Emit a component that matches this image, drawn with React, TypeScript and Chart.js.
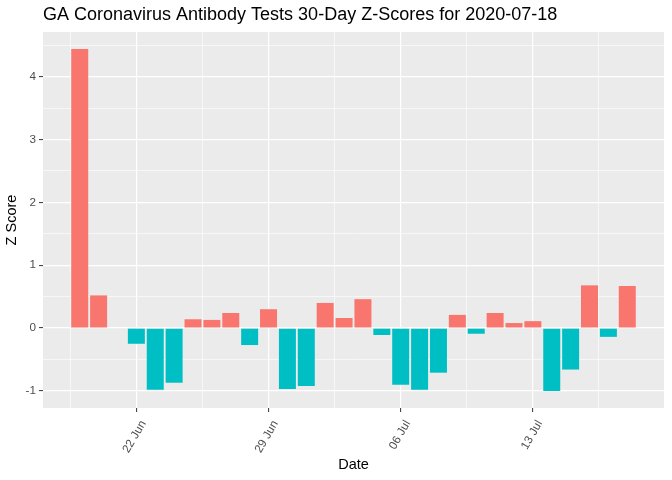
import React, { useEffect, useRef } from "react";
import { Chart, registerables } from "chart.js";

Chart.register(...registerables);

const dates: string[] = [
  "2020-06-19", "2020-06-20", "2020-06-21", "2020-06-22", "2020-06-23",
  "2020-06-24", "2020-06-25", "2020-06-26", "2020-06-27", "2020-06-28",
  "2020-06-29", "2020-06-30", "2020-07-01", "2020-07-02", "2020-07-03",
  "2020-07-04", "2020-07-05", "2020-07-06", "2020-07-07", "2020-07-08",
  "2020-07-09", "2020-07-10", "2020-07-11", "2020-07-12", "2020-07-13",
  "2020-07-14", "2020-07-15", "2020-07-16", "2020-07-17", "2020-07-18",
];

const zScores: (number | null)[] = [
  4.44, 0.52, null, -0.25, -0.98,
  -0.87, 0.14, 0.13, 0.24, -0.27,
  0.3, -0.97, -0.92, 0.4, 0.16,
  0.46, -0.11, -0.9, -0.98, -0.71,
  0.21, -0.09, 0.24, 0.08, 0.11,
  -1.0, -0.66, 0.68, -0.14, 0.67,
];

const xTickDates: string[] = ["2020-06-22", "2020-06-29", "2020-07-06", "2020-07-13"];
const xTickLabels: string[] = ["22 Jun", "29 Jun", "06 Jul", "13 Jul"];
const yTicks: number[] = [-1, 0, 1, 2, 3, 4];

const POS = "#F8766D";
const NEG = "#00BFC4";
const FONT = "'Liberation Sans', Arial, sans-serif";

const DAY = 86400000;
const t0 = Date.parse(dates[0] + "T00:00:00Z");
const dayIndex = (d: string) => Math.round((Date.parse(d + "T00:00:00Z") - t0) / DAY);

const panelBg = {
  id: "panelBg",
  beforeDraw(chart: any) {
    const { ctx, chartArea } = chart;
    ctx.save();
    ctx.fillStyle = "#EBEBEB";
    ctx.fillRect(chartArea.left, chartArea.top, chartArea.right - chartArea.left, chartArea.bottom - chartArea.top);
    ctx.restore();
  },
};

export default function App() {
  const ref = useRef<HTMLCanvasElement | null>(null);

  useEffect(() => {
    document.body.style.margin = "0";
    if (!ref.current) return;

    const points = dates.map((d, i) => ({ x: dayIndex(d), y: zScores[i] }));
    const nDays = dayIndex(dates[dates.length - 1]);
    const halfBar = 0.45;
    const expand = (nDays + 2 * halfBar) * 0.05;
    const xMin = -halfBar - expand;
    const xMax = nDays + halfBar + expand;

    const vals = zScores.filter((v) => v !== null) as number[];
    const yLo = Math.min(0, ...vals);
    const yHi = Math.max(0, ...vals);
    const yExp = (yHi - yLo) * 0.05;

    const majorX = xTickDates.map(dayIndex);
    const minorX: number[] = [];
    for (let v = majorX[0] - 3.5; v <= xMax; v += 7) if (v >= xMin) minorX.push(v);
    const xTickVals = [...majorX, ...minorX].sort((a, b) => a - b);

    const yTickVals: number[] = [];
    for (let v = yTicks[0] - 0.5; v <= yHi + yExp; v += 0.5) if (v >= yLo - yExp) yTickVals.push(v);

    const isMajorX = (v: number) => majorX.includes(v);
    const isMajorY = (v: number) => yTicks.includes(v);

    const chart = new Chart(ref.current, {
      type: "bar",
      data: {
        datasets: [
          {
            data: points as any,
            backgroundColor: zScores.map((v) => ((v ?? 0) >= 0 ? POS : NEG)),
            barPercentage: 0.9,
            categoryPercentage: 1.0,
            borderWidth: 0,
          },
        ],
      },
      plugins: [panelBg],
      options: {
        animation: false,
        responsive: true,
        maintainAspectRatio: false,
        layout: { padding: { left: 0, right: 8, top: 0, bottom: 0 } },
        plugins: {
          legend: { display: false },
          tooltip: { enabled: false },
          title: {
            display: true,
            text: "GA Coronavirus Antibody Tests 30-Day Z-Scores for 2020-07-18",
            align: "start",
            fullSize: false,
            color: "#000000",
            font: { family: FONT, size: 18, weight: "normal" },
            padding: { top: 4.5, bottom: 5.9 },
          },
        },
        scales: {
          x: {
            type: "linear",
            min: xMin,
            max: xMax,
            offset: false,
            afterFit: (s: any) => {
              s.height = 72;
            },
            afterBuildTicks: (s: any) => {
              s.ticks = xTickVals.map((v) => ({ value: v }));
            },
            border: { display: false },
            grid: {
              offset: false,
              color: "#FFFFFF",
              lineWidth: (c: any) => (isMajorX(c.tick?.value) ? 1.2 : 0.6),
              tickColor: (c: any) => (isMajorX(c.tick?.value) ? "#333333" : "rgba(0,0,0,0)"),
              tickLength: 4,
              tickWidth: 1,
            },
            ticks: {
              autoSkip: false,
              minRotation: 60,
              maxRotation: 60,
              padding: 6,
              labelOffset: 7,
              color: "#4D4D4D",
              font: { family: FONT, size: 11.7 },
              callback: (v: any) => {
                const i = majorX.indexOf(Number(v));
                return i >= 0 ? xTickLabels[i] : "";
              },
            },
            title: {
              display: true,
              text: "Date",
              color: "#000000",
              font: { family: FONT, size: 14.5 },
              padding: { top: 0, bottom: 6.3 },
            },
          },
          y: {
            type: "linear",
            min: yLo - yExp,
            max: yHi + yExp,
            afterFit: (s: any) => {
              s.width = 43;
            },
            afterBuildTicks: (s: any) => {
              s.ticks = yTickVals.map((v) => ({ value: v }));
            },
            border: { display: false },
            grid: {
              color: "#FFFFFF",
              lineWidth: (c: any) => (isMajorY(c.tick?.value) ? 1.2 : 0.6),
              tickColor: (c: any) => (isMajorY(c.tick?.value) ? "#333333" : "rgba(0,0,0,0)"),
              tickLength: 4,
              tickWidth: 1,
            },
            ticks: {
              padding: 3,
              color: "#4D4D4D",
              font: { family: FONT, size: 11.7 },
              callback: (v: any) => (isMajorY(Number(v)) ? String(v) : ""),
            },
            title: {
              display: true,
              text: "Z Score",
              color: "#000000",
              font: { family: FONT, size: 14.5 },
              padding: { top: 3.3, bottom: 0 },
            },
          },
        },
      } as any,
    });

    return () => chart.destroy();
  }, []);

  return (
    <div style={{ position: "relative", width: 672, height: 480 }}>
      <canvas ref={ref} />
    </div>
  );
}
